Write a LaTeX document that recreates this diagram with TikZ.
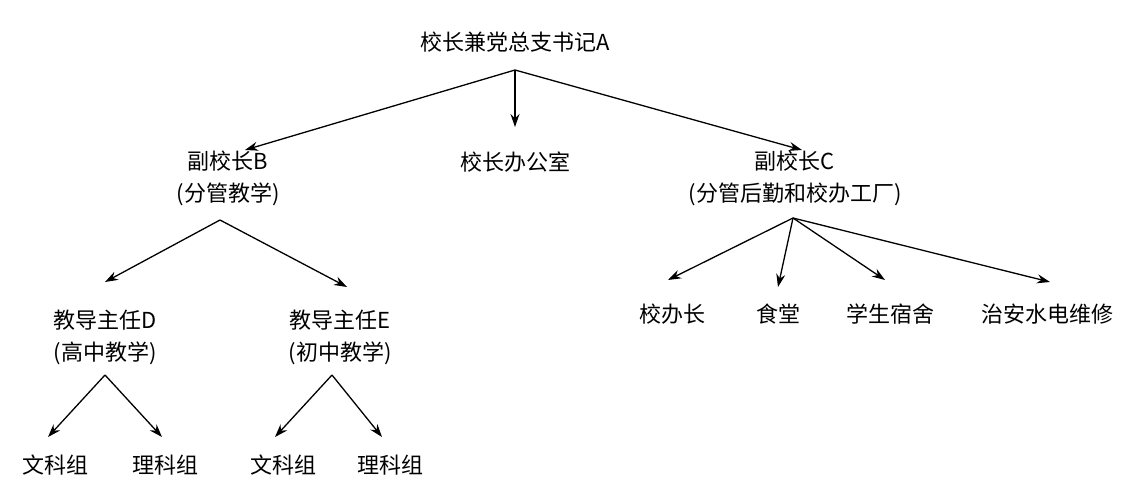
\documentclass[tikz,border=0pt]{standalone}
\usepackage{fontspec}
\setmainfont{Liberation Serif}
\newfontfamily\cjk{Noto Sans CJK SC}
\usetikzlibrary{arrows.meta}
\begin{document}
\begin{tikzpicture}[x=1pt,y=-1pt,
  lbl/.style={font=\cjk\fontsize{22}{32}\selectfont,align=center,inner sep=0pt},
  arr/.style={-{Stealth[length=13pt,width=9pt]},line width=1.3pt}]
\useasboundingbox (0,0) rectangle (1124,500);
\node[lbl] (A) at (515,42) {校长兼党总支书记A};
\node[lbl] (B) at (228,178) {副校长B\\(分管教学)};
\node[lbl] (O) at (515,162) {校长办公室};
\node[lbl] (C) at (795,178) {副校长C\\(分管后勤和校办工厂)};
\node[lbl] (D) at (105,337) {教导主任D\\(高中教学)};
\node[lbl] (E) at (340,337) {教导主任E\\(初中教学)};
\node[lbl] (C1) at (672,314) {校办长};
\node[lbl] (C2) at (778,314) {食堂};
\node[lbl] (C3) at (890,314) {学生宿舍};
\node[lbl] (C4) at (1047,314) {治安水电维修};
\node[lbl] (L1) at (55,465) {文科组};
\node[lbl] (L2) at (165,465) {理科组};
\node[lbl] (L3) at (283,465) {文科组};
\node[lbl] (L4) at (390,465) {理科组};
\coordinate (a0) at (515,70);
\coordinate (b0) at (220,220);
\coordinate (c0) at (793,218);
\coordinate (d0) at (105,375);
\coordinate (e0) at (332,375);
\coordinate (bt) at (245,150);
\coordinate (ot) at (515,127);
\coordinate (ct) at (802,150);
\coordinate (dt) at (105,282);
\coordinate (et) at (347,287);
\coordinate (c1t) at (668,280);
\coordinate (c2t) at (778,287);
\coordinate (c3t) at (885,280);
\coordinate (c4t) at (1050,282);
\coordinate (l1t) at (48,437);
\coordinate (l2t) at (162,437);
\coordinate (l3t) at (275,437);
\coordinate (l4t) at (382,437);
\draw[arr] (a0) -- (bt);
\draw[arr] (a0) -- (ot);
\draw[arr] (a0) -- (ct);
\draw[arr] (b0) -- (dt);
\draw[arr] (b0) -- (et);
\draw[arr] (c0) -- (c1t);
\draw[arr] (c0) -- (c2t);
\draw[arr] (c0) -- (c3t);
\draw[arr] (c0) -- (c4t);
\draw[arr] (d0) -- (l1t);
\draw[arr] (d0) -- (l2t);
\draw[arr] (e0) -- (l3t);
\draw[arr] (e0) -- (l4t);
\end{tikzpicture}
\end{document}
